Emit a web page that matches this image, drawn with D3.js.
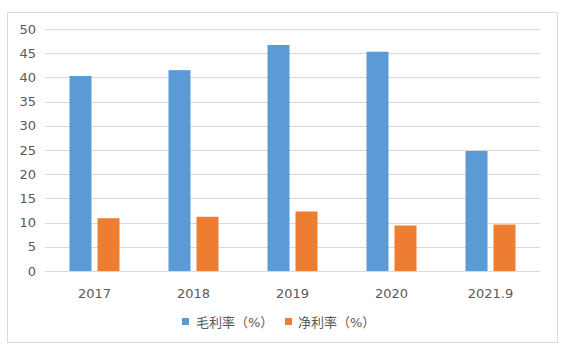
<!DOCTYPE html>
<html><head><meta charset="utf-8">
<script src="https://cdn.jsdelivr.net/npm/d3@7"></script>
<style>body{margin:0;background:#fff}svg{display:block}</style>
</head><body>
<script>
const categories = ["2017","2018","2019","2020","2021.9"];
const grossMargin = [40.3, 41.5, 46.7, 45.3, 24.8];
const netMargin = [10.9, 11.2, 12.3, 9.4, 9.6];
const seriesNames = ["毛利率（%）","净利率（%）"];
const colors = ["#5B9BD5","#ED7D31"];
const yTicks = [0,5,10,15,20,25,30,35,40,45,50];

(function(){
const W=570,H=357;
const svg=d3.select("body").append("svg").attr("width",W).attr("height",H);
svg.append("rect").attr("x",7.5).attr("y",12.5).attr("width",550).attr("height",330)
  .attr("fill","#fff").attr("stroke","#D9D9D9");
const mL=45,mR=540,mT=29,mB=271;
const x=d3.scaleBand().domain(categories).range([mL,mR]);
const y=d3.scaleLinear().domain([0,50]).range([mB,mT]);
const font="DejaVu Sans, Verdana, sans-serif";

svg.append("g").selectAll("line").data(yTicks).join("line")
  .attr("x1",mL).attr("x2",mR).attr("y1",d=>Math.round(y(d))+0.5).attr("y2",d=>Math.round(y(d))+0.5)
  .attr("stroke","#D9D9D9");
svg.append("g").selectAll("text").data(yTicks).join("text")
  .attr("x",36).attr("y",d=>y(d)).attr("dy","0.36em").attr("text-anchor","end")
  .attr("font-family",font).attr("font-size",13).attr("fill","#595959").text(d=>d);

const barW=22, gap=6;
const series=[grossMargin,netMargin];
series.forEach((vals,si)=>{
  svg.append("g").selectAll("rect").data(categories).join("rect")
    .attr("x",(c)=>x(c)+x.bandwidth()/2 - barW - gap/2 + si*(barW+gap))
    .attr("width",barW)
    .attr("y",(c,i)=>y(vals[i]))
    .attr("height",(c,i)=>mB-y(vals[i]))
    .attr("fill",colors[si]);
});
svg.append("g").selectAll("text").data(categories).join("text")
  .attr("x",c=>x(c)+x.bandwidth()/2).attr("y",293).attr("dy","0.36em").attr("text-anchor","middle")
  .attr("font-family",font).attr("font-size",13).attr("fill","#595959").text(d=>d);

const leg=[[182,196],[285,298]];
seriesNames.forEach((n,i)=>{
  svg.append("rect").attr("x",leg[i][0]).attr("y",318).attr("width",7).attr("height",7).attr("fill",colors[i]);
  svg.append("text").attr("x",leg[i][1]).attr("y",322).attr("dy","0.36em")
    .attr("font-family",font+", Noto Sans CJK SC").attr("font-size",13).attr("fill","#595959").text(n);
});
})();
</script>
</body></html>
